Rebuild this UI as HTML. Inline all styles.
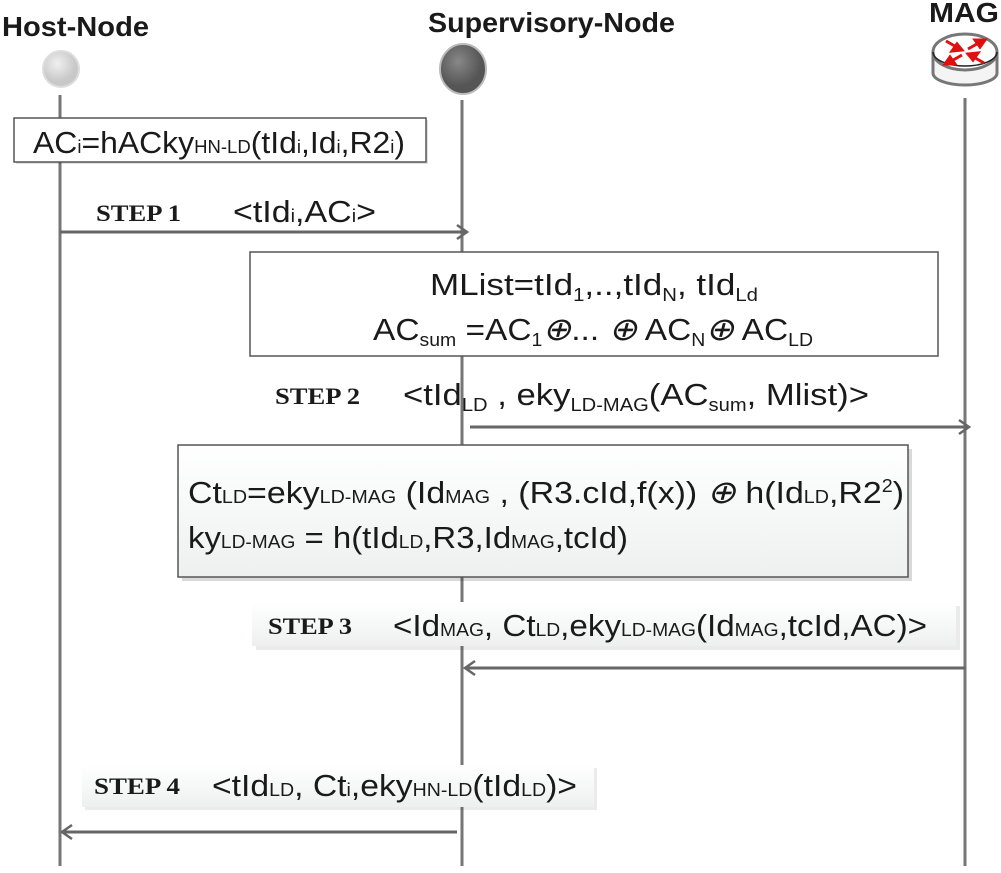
<!DOCTYPE html>
<html><head><meta charset="utf-8"><style>
html,body{margin:0;padding:0;background:#fff;}
svg{display:block;}
.t{font-family:"Liberation Sans",sans-serif;font-size:31px;fill:#1a1a1a;}
.s{font-size:18px;}
.x{font-style:italic;font-size:32px;}
.st{font-family:"Liberation Serif",serif;font-weight:bold;font-size:23px;fill:#1a1a1a;}
.h{font-family:"Liberation Sans",sans-serif;font-weight:bold;font-size:28px;fill:#1a1a1a;}
</style></head><body>
<svg width="1001" height="873" viewBox="0 0 1001 873" xmlns="http://www.w3.org/2000/svg">
<defs>
<linearGradient id="g" x1="0" y1="0" x2="0" y2="1"><stop offset="0" stop-color="#fff"/><stop offset="1" stop-color="#eef0f0"/></linearGradient>
<radialGradient id="c1" cx="0.4" cy="0.35"><stop offset="0" stop-color="#f0f0f0"/><stop offset="1" stop-color="#c8c8c8"/></radialGradient>
<radialGradient id="c2" cx="0.4" cy="0.35"><stop offset="0" stop-color="#888"/><stop offset="1" stop-color="#555"/></radialGradient>
</defs>
<text class="h" x="2" y="36" textLength="147" lengthAdjust="spacingAndGlyphs">Host-Node</text>
<text class="h" x="428" y="32" textLength="247" lengthAdjust="spacingAndGlyphs">Supervisory-Node</text>
<text class="h" x="929" y="22" textLength="70" lengthAdjust="spacingAndGlyphs">MAG</text>
<g stroke="#767676" stroke-width="3">
<line x1="60" y1="95" x2="60" y2="866"/>
<line x1="462" y1="100" x2="462" y2="866"/>
<line x1="965" y1="98" x2="965" y2="866"/>
</g>
<circle cx="61" cy="69" r="18" fill="url(#c1)" stroke="#ddd" stroke-width="2"/>
<ellipse cx="463" cy="69" rx="23" ry="25" fill="url(#c2)" stroke="#bbb" stroke-width="2"/>
<g>
<path d="M933,52 v21 a32,12 0 0 0 64,0 v-21" fill="#f4f4f4" stroke="#777" stroke-width="3"/>
<ellipse cx="965" cy="52" rx="32" ry="18" fill="#fff" stroke="#777" stroke-width="3"/>
<path d="M933,52 a32,14 0 0 0 64,0" fill="none" stroke="#222" stroke-width="1.5"/>
<g stroke="#e01010" stroke-width="3" fill="#e01010">
<line x1="946" y1="41" x2="960" y2="49"/><polygon points="962,50 952,51 957,44"/>
<line x1="984" y1="63" x2="970" y2="55"/><polygon points="968,54 978,53 973,60"/>
<line x1="968" y1="49" x2="982" y2="41"/><polygon points="985,40 975,40 980,47"/>
<line x1="962" y1="55" x2="948" y2="63"/><polygon points="945,64 955,64 950,57"/>
</g>
</g>
<rect x="16" y="120" width="412" height="44" fill="#000" opacity="0.12"/>
<rect x="14" y="118" width="412" height="44" fill="#fff" stroke="#555" stroke-width="1.5"/>
<text class="t" x="33" y="153" textLength="372" lengthAdjust="spacingAndGlyphs">AC<tspan class="s">i</tspan>=hACky<tspan class="s">HN-LD</tspan>(tId<tspan class="s">i</tspan>,Id<tspan class="s">i</tspan>,R2<tspan class="s">i</tspan>)</text>
<text class="st" x="96" y="221" textLength="85" lengthAdjust="spacingAndGlyphs">STEP 1</text>
<text class="t" x="233" y="222" textLength="143" lengthAdjust="spacingAndGlyphs">&lt;tId<tspan class="s">i</tspan>,AC<tspan class="s">i</tspan>&gt;</text>
<line x1="60" y1="232" x2="466" y2="232" stroke="#666" stroke-width="3"/>
<polyline points="457,225 467,232 457,239" fill="none" stroke="#666" stroke-width="2.5"/>
<rect x="250" y="252" width="688" height="104" fill="#fff" stroke="#555" stroke-width="1.5"/>
<text class="t" x="430" y="295" textLength="328" lengthAdjust="spacingAndGlyphs">MList=tId<tspan class="s" dy="6">1</tspan><tspan dy="-6">,..,tId</tspan><tspan class="s" dy="6">N</tspan><tspan dy="-6">, tId</tspan><tspan class="s" dy="6">Ld</tspan></text>
<text class="t" x="373" y="340" textLength="440" lengthAdjust="spacingAndGlyphs">AC<tspan class="s" dy="6">sum</tspan><tspan dy="-6"> =AC</tspan><tspan class="s" dy="6">1</tspan><tspan dy="-6" class="x">⊕</tspan><tspan>... </tspan><tspan class="x">⊕</tspan><tspan> AC</tspan><tspan class="s" dy="6">N</tspan><tspan dy="-6" class="x">⊕</tspan><tspan> AC</tspan><tspan class="s" dy="6">LD</tspan></text>
<text class="st" x="275" y="404" textLength="85" lengthAdjust="spacingAndGlyphs">STEP 2</text>
<text class="t" x="403" y="405" textLength="466" lengthAdjust="spacingAndGlyphs">&lt;tId<tspan class="s" dy="6">LD</tspan><tspan dy="-6"> ,  eky</tspan><tspan class="s" dy="6">LD-MAG</tspan><tspan dy="-6">(AC</tspan><tspan class="s" dy="6">sum</tspan><tspan dy="-6">, Mlist)&gt;</tspan></text>
<line x1="470" y1="427" x2="968" y2="427" stroke="#666" stroke-width="3"/>
<polyline points="959,420 969,427 959,434" fill="none" stroke="#666" stroke-width="2.5"/>
<rect x="182" y="449" width="730" height="132" fill="#000" opacity="0.15"/>
<rect x="178" y="445" width="730" height="132" fill="url(#g)" stroke="#555" stroke-width="1.5"/>
<text class="t" x="188" y="503" textLength="716" lengthAdjust="spacingAndGlyphs">Ct<tspan class="s">LD</tspan>=eky<tspan class="s">LD-MAG</tspan> (Id<tspan class="s">MAG</tspan> ,  (R3.cId,f(x)) <tspan class="x">⊕</tspan> h(Id<tspan class="s">LD</tspan>,R2<tspan class="s" dy="-11">2</tspan><tspan dy="11">)</tspan></text>
<text class="t" x="188" y="548" textLength="440" lengthAdjust="spacingAndGlyphs">ky<tspan class="s">LD-MAG</tspan> = h(tId<tspan class="s">LD</tspan>,R3,Id<tspan class="s">MAG</tspan>,tcId)</text>
<rect x="256" y="606" width="704" height="44" fill="#000" opacity="0.08"/>
<rect x="252" y="602" width="704" height="44" fill="url(#g)"/>
<text class="st" x="268" y="634" textLength="84" lengthAdjust="spacingAndGlyphs">STEP 3</text>
<text class="t" x="393" y="636" textLength="534" lengthAdjust="spacingAndGlyphs">&lt;Id<tspan class="s">MAG</tspan>,  Ct<tspan class="s">LD</tspan>,eky<tspan class="s">LD-MAG</tspan>(Id<tspan class="s">MAG</tspan>,tcId,AC)&gt;</text>
<line x1="965" y1="668" x2="465" y2="668" stroke="#666" stroke-width="3"/>
<polyline points="475,661 465,668 475,675" fill="none" stroke="#666" stroke-width="2.5"/>
<rect x="85" y="768" width="512" height="42" fill="#000" opacity="0.08"/>
<rect x="82" y="765" width="512" height="42" fill="url(#g)"/>
<text class="st" x="94" y="794" textLength="86" lengthAdjust="spacingAndGlyphs">STEP 4</text>
<text class="t" x="212" y="796" textLength="365" lengthAdjust="spacingAndGlyphs">&lt;tId<tspan class="s">LD</tspan>,  Ct<tspan class="s">i</tspan>,eky<tspan class="s">HN-LD</tspan>(tId<tspan class="s">LD</tspan>)&gt;</text>
<line x1="457" y1="832" x2="62" y2="832" stroke="#666" stroke-width="3"/>
<polyline points="72,825 62,832 72,839" fill="none" stroke="#666" stroke-width="2.5"/>
</svg>
</body></html>
